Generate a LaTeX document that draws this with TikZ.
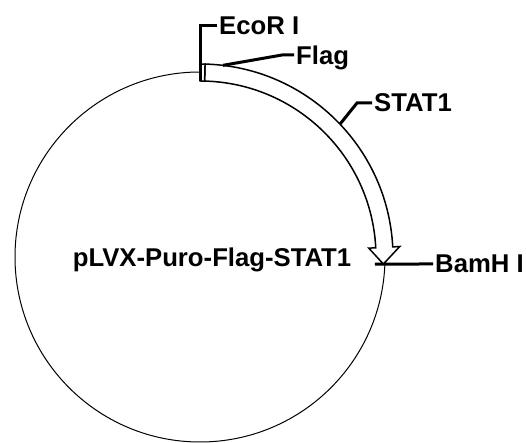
\documentclass[tikz,border=0pt]{standalone}
\usepackage{fontspec}
\setmainfont{Liberation Sans}
\begin{document}
\begin{tikzpicture}[x=1pt,y=1pt,
  lbl/.style={font=\fontsize{25.7}{30}\selectfont\bfseries,inner sep=2pt,text depth=0pt},
  leader/.style={line width=3pt},
  feature/.style={draw,fill=white,line width=1.5pt}]
\def\rIn{176pt}
\def\rOut{193pt}
\def\aFlag{88.5}
\def\aHead{3}
\useasboundingbox (0,0) rectangle (526,443);
\begin{scope}[shift={(200,186)}]
\draw[line width=1pt] (0,0) circle (185pt);
% STAT1 insert
\draw[feature] (\aFlag:\rOut) arc[start angle=\aFlag,end angle=\aHead,radius=\rOut]
  -- (\aHead:200pt) -- (-2.2:183.5pt) -- (\aHead:169pt) -- (\aHead:\rIn)
  arc[start angle=\aHead,end angle=\aFlag,radius=\rIn] -- cycle;
% Flag tag
\draw[feature] (90:\rOut) arc[start angle=90,end angle=\aFlag,radius=\rOut]
  -- (\aFlag:\rIn) arc[start angle=\aFlag,end angle=90,radius=\rIn] -- cycle;

\coordinate (ecoSite) at (90:\rIn);
\coordinate (flagSite) at (83.2:\rOut);
\coordinate (flagBend) at (82,202);
\coordinate (statSite) at (43.5:\rOut);
\coordinate (statBend) at (157,154);
\coordinate (bamSite) at (-2.3:175pt);
\path
(17,231) node [lbl,anchor=west] (eco) {EcoR I}
(94,202) node [lbl,anchor=west] (flag) {Flag}
(172,154) node [lbl,anchor=west] (stat) {STAT1}
(233,-7) node [lbl,anchor=west] (bam) {BamH I}
(12,0) node [lbl] (plasmid) {pLVX-Puro-Flag-STAT1}
;

\begin{scope}[every path/.style={draw,leader}]
\path (ecoSite) |- (eco.west);
\path (flagSite) -- (flagBend) -- (flag.west);
\path (statSite) -- (statBend) -- (stat.west);
\path (bamSite) -- (bam.west);
\end{scope}
\end{scope}
\end{tikzpicture}
\end{document}
